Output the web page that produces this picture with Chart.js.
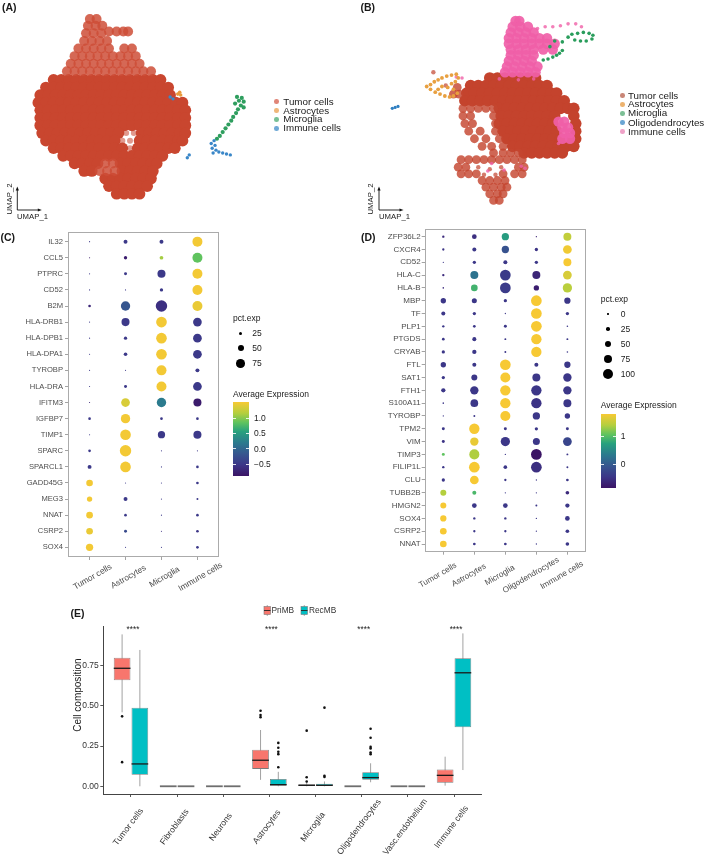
<!DOCTYPE html>
<html><head><meta charset="utf-8">
<script src="https://cdn.jsdelivr.net/npm/chart.js@4.4.1/dist/chart.umd.min.js"></script>
<style>
html,body{margin:0;padding:0;background:#fff;}
#root{position:relative;width:709px;height:862px;overflow:hidden;font-family:"Liberation Sans",Arial,Helvetica,sans-serif;background:#fff;}
canvas{position:absolute;}
.t{position:absolute;white-space:nowrap;line-height:1;color:#1a1a1a;}
</style></head><body><div id="root"></div>
<script>
// ================= DATA =================
// Panel A UMAP embedding (rows: [UMAP_2, [UMAP_1 ...]], screen-oriented embedding units)
const umapA_tumor_core = [
 [78,[50,58,66,74,82,90,98,106,114,122,130,138,146,154,162]],
 [86,[42,50,58,66,74,82,90,98,106,114,122,130,138,146,154,162,170]],
 [94,[36,44,52,60,68,76,84,92,100,108,116,124,132,140,148,156,164,172]],
 [102,[34,42,50,58,66,74,82,90,98,106,114,122,130,138,146,154,162,170,178,185]],
 [110,[36,44,52,60,68,76,84,92,100,108,116,124,132,140,148,156,164,172,180,188]],
 [118,[36,44,52,60,68,76,84,92,100,108,116,124,132,140,148,156,164,172,180,188]],
 [126,[36,44,52,60,68,76,84,92,100,108,116,124,132,140,148,156,164,172,180,188]],
 [134,[38,46,54,62,70,78,86,94,102,110,118,142,150,158,166,174,182,188]],
 [142,[42,50,58,66,74,82,90,98,106,114,140,148,156,164,172,180,185]],
 [150,[50,58,66,74,82,90,98,106,114,122,138,146,154,162,170,177]],
 [158,[60,68,76,84,92,100,108,116,124,132,140,148,156,164]],
 [166,[72,80,88,96,120,128,136,144,152,158]],
 [174,[82,90,122,130,138,146,154]],
 [182,[104,112,120,128,136,144,152]],
 [190,[108,116,124,132,140,148]],
 [198,[116,124,132,140]]
];
const umapA_tumor_mid = [
 [14,[88,95]],[21,[86,94,101]],[27,[108,116,123,128]],[29,[84,92,100]],
 [37,[82,90,98,106]],[45,[76,84,92,100,108,124,132]],
 [53,[72,80,88,96,104,112,120,128,136]],
 [61,[68,76,84,92,100,108,116,124,132,140]],
 [69,[64,72,80,88,96,104,112,120,128,136,144,152]],
 [166,[104,112]],[174,[98,106,114]]
];
const umapA_tumor_sparse = [[126,134],[134,134],[122,142],[130,142],[130,150]];
const umapA_astro = [[180,93],[182,91],[183,94]];
const umapA_micro = [[242,96],[247,97],[244,100],[249,101],[240,103],[246,105],[249,107],[243,109],[241,113],[238,117],[236,121],[233,125],[230,129],[227,133],[224,137],[221,140]];
const umapA_immune = [[218,142],[215,145],[219,147],[216,150],[220,152],[217,155],[223,154],[227,155],[231,156],[235,157],[172,96],[175,98],[192,157],[190,160]];

// Panel B UMAP embedding
const umapB_tumor_core = [
 [76,[490,498,506,514,522,530,538]],
 [84,[470,478,486,494,502,510,518,526,534,542,550]],
 [92,[466,474,482,490,498,506,514,522,530,538,546,554,560]],
 [100,[464,472,480,488,496,504,512,520,528,536,544,552,560,568]],
 [108,[500,508,516,524,532,540,548,556,564,572,578]],
 [116,[502,510,518,526,534,542,550,558,578]],
 [124,[500,508,516,524,532,540,548,556,580]],
 [132,[504,512,520,528,536,544,552,560,580]],
 [140,[508,516,524,532,540,548,556,564,572,580]],
 [148,[514,522,530,538,546,554,562,570,578]],
 [155,[526,534,542,550,558,566]]
];
const umapB_tumor_mid = [
 [86,[456]],[93,[452,458]],
 [108,[462,470,478,486,494]],[116,[462,470,494]],[124,[464,472,496]],
 [132,[468,480,496]],[140,[474,486,500]],[148,[482,492,504]],
 [155,[494,504,512,520]],
 [162,[460,468,476,484,492,500,508,516,524]],
 [170,[457,465,520,526]],[177,[460,468,476,504,516,524]],
 [184,[482,490,498,506]],[191,[486,494,502,508]],[198,[490,498,504]],[205,[494,500]]
];
const umapB_tumor_sparse = [[431,70],[444,84],[478,170],[490,172],[502,170],[484,178],[496,178]];
const umapB_immune_mid = [
 [16,[517,521]],[22,[514,522,530]],[28,[512,520,528,536]],
 [34,[510,518,526,534,542,550]],[40,[510,518,526,534,542,550,558]],
 [46,[512,520,528,536,546,556]],[52,[512,520,528,536]],[58,[510,518,526,534]],
 [64,[508,516,524,532,540]],[70,[506,514,522,530,538]],
 [122,[562,568]],[128,[566,572]],[134,[568,574]],[140,[566,574]]
];
const umapB_immune_sparse = [[540,24],[548,22],[556,22],[564,21],[572,19],[580,19],[586,22],[500,77],[520,78],[536,77],[455,75],[461,76],[523,169],[527,171],[492,166],[505,173],[488,174],[562,145]];
const umapB_micro = [[572,33],[576,30],[582,29],[588,28],[594,29],[598,31],[597,35],[591,37],[585,37],[579,36],[546,57],[551,56],[556,54],[560,52],[563,50],[566,47],[558,37],[566,38],[553,43]];
const umapB_astro = [[424,85],[428,83],[432,80],[436,78],[440,76],[445,74],[450,73],[455,72],[428,88],[433,91],[438,93],[443,95],[448,96],[452,95],[452,88],[450,82],[446,86],[440,85],[436,88],[454,80],[457,76],[456,92]];
const umapB_oligo = [[388,108],[391,107],[394,106]];

const legendA = ['Tumor cells','Astrocytes','Microglia','Immune cells'];
const legendB = ['Tumor cells','Astrocytes','Microglia','Oligodendrocytes','Immune cells'];

// Panel C dot plot
const cellsC = ['Tumor cells','Astrocytes','Microglia','Immune cells'];
const genesC = ['IL32','CCL5','PTPRC','CD52','B2M','HLA-DRB1','HLA-DPB1','HLA-DPA1','TYROBP','HLA-DRA','IFITM3','IGFBP7','TIMP1','SPARC','SPARCL1','GADD45G','MEG3','NNAT','CSRP2','SOX4'];
const pctC = [
 [5,31,31,87],[5,25,29,87],[5,22,69,87],[5,5,25,87],[19,81,100,87],
 [5,69,93,75],[5,25,93,75],[5,28,93,75],[5,5,87,31],[5,22,87,75],
 [5,75,81,69],[19,81,19,19],[5,93,62,69],[19,100,5,5],[31,93,5,19],
 [56,5,5,19],[44,31,5,13],[56,19,5,19],[56,22,5,19],[62,5,5,19]
];
const avgC = [
 [-0.5,-0.5,-0.5,1.5],[-0.85,-0.8,1.1,0.85],[-0.5,-0.5,-0.5,1.5],[-0.5,-0.5,-0.5,1.5],[-0.7,-0.17,-0.6,1.45],
 [-0.5,-0.5,1.5,-0.5],[-0.5,-0.5,1.5,-0.5],[-0.5,-0.5,1.5,-0.5],[-0.5,-0.5,1.5,-0.5],[-0.5,-0.5,1.5,-0.5],
 [-0.7,1.35,0.2,-0.82],[-0.5,1.5,-0.5,-0.5],[-0.5,1.5,-0.5,-0.5],[-0.5,1.5,-0.5,-0.5],[-0.5,1.5,-0.5,-0.5],
 [1.5,-0.5,-0.5,-0.5],[1.5,-0.5,-0.5,-0.5],[1.5,-0.5,-0.5,-0.5],[1.45,-0.3,-0.6,-0.55],[1.5,-0.5,-0.5,-0.5]
];
const colorRangeC = [-0.89, 1.52];
const colorTicksC = [1.0, 0.5, 0.0, -0.5];
const sizeTicksC = [25, 50, 75];

// Panel D dot plot
const cellsD = ['Tumor cells','Astrocytes','Microglia','Oligodendrocytes','Immune cells'];
const genesD = ['ZFP36L2','CXCR4','CD52','HLA-C','HLA-B','MBP','TF','PLP1','PTGDS','CRYAB','FTL','SAT1','FTH1','S100A11','TYROBP','TPM2','VIM','TIMP3','FILIP1L','CLU','TUBB2B','HMGN2','SOX4','CSRP2','NNAT'];
const pctD = [
 [11,36,64,0,71],[11,29,64,21,79],[0,21,29,21,71],[11,71,100,71,79],[3,57,100,43,85],
 [43,40,21,100,53],[29,21,0,100,21],[11,15,18,100,3],[15,29,7,96,7],[21,32,7,96,3],
 [43,29,100,29,53],[21,50,93,71,75],[32,75,96,96,75],[3,68,96,96,71],[0,7,93,64,43],
 [18,96,18,21,18],[18,75,85,61,79],[18,93,0,100,7],[11,100,25,100,7],[21,79,11,0,15],
 [50,29,0,0,25],[50,36,36,7,32],[53,11,11,0,36],[57,11,11,0,25],[57,15,15,0,25]
];
const avgD = [
 [-0.6,-0.55,0.68,-0.7,1.47],[-0.5,-0.45,-0.12,-0.5,1.75],[-0.45,-0.45,-0.45,-0.45,1.79],[-0.6,0.25,-0.4,-0.65,1.6],[-0.6,0.89,-0.4,-0.75,1.42],
 [-0.45,-0.45,-0.45,1.79,-0.45],[-0.45,-0.45,-0.45,1.79,-0.45],[-0.45,-0.45,-0.45,1.79,-0.45],[-0.45,-0.45,-0.45,1.79,-0.45],[-0.45,-0.45,-0.45,1.79,-0.45],
 [-0.45,-0.45,1.79,-0.45,-0.45],[-0.45,-0.45,1.79,-0.45,-0.45],[-0.45,-0.45,1.79,-0.45,-0.45],[-0.45,-0.45,1.79,-0.5,-0.45],[-0.45,-0.45,1.79,-0.45,-0.45],
 [-0.45,1.79,-0.45,-0.45,-0.45],[-0.5,1.7,-0.45,-0.45,-0.28],[1.05,1.37,-0.45,-0.86,-0.45],[-0.45,1.79,-0.45,-0.55,-0.45],[-0.45,1.79,-0.45,-0.45,-0.45],
 [1.39,0.94,-0.45,-0.45,-0.6],[1.79,-0.45,-0.45,-0.45,-0.45],[1.79,-0.45,-0.45,-0.45,-0.45],[1.79,-0.45,-0.45,-0.45,-0.45],[1.79,-0.45,-0.45,-0.45,-0.45]
];
const colorRangeD = [-0.86, 1.79];
const colorTicksD = [1, 0];
const sizeTicksD = [0, 25, 50, 75, 100];

// Panel E box plot
const cellTypesE = ['Tumor cells','Fibroblasts','Neurons','Astrocytes','Microglia','Oligodendrocytes','Vasc.endothelium','Immune cells'];
const groupsE = ['PriMB','RecMB'];
const priMB_lo  = [0.46, 0, 0, 0.04, 0,     0, 0, 0.004];
const priMB_q1  = [0.66, 0, 0, 0.108,0,     0, 0, 0.022];
const priMB_med = [0.734,0, 0, 0.162,0.006, 0, 0, 0.068];
const priMB_q3  = [0.80, 0, 0, 0.228,0.013, 0, 0, 0.105];
const priMB_hi  = [0.945,0, 0, 0.35, 0.025, 0, 0, 0.184];
const priMB_out = [[0.435,0.15],[],[],[0.47,0.443,0.43],[0.346,0.056,0.03],[],[],[]];
const recMB_lo  = [0,    0, 0, 0,    0,     0.025, 0, 0.101];
const recMB_q1  = [0.072,0, 0, 0,    0,     0.04,  0, 0.367];
const recMB_med = [0.139,0, 0, 0.01, 0.006, 0.054, 0, 0.706];
const recMB_q3  = [0.489,0, 0, 0.045,0.016, 0.088, 0, 0.796];
const recMB_hi  = [0.848,0, 0, 0.09, 0.03,  0.143, 0, 0.951];
const recMB_out = [[],[],[],[0.27,0.24,0.215,0.2,0.118],[0.489,0.065,0.058],[0.358,0.302,0.245,0.235,0.21,0.2],[],[]];
const sigLabelsE = ['****','','','****','','****','','****'];
const sigLevelE = 0.985;
const yTicksE = [0, 0.25, 0.5, 0.75];

// ================= HELPERS =================
const FONT = '"Liberation Sans", Arial, Helvetica, sans-serif';
Chart.defaults.font.family = FONT;
Chart.defaults.animation = false;
const root = document.getElementById('root');
const svgNS = 'http://www.w3.org/2000/svg';

function mkCanvas(left, top, w, h){
  const c = document.createElement('canvas');
  c.width = w; c.height = h;
  c.style.left = left+'px'; c.style.top = top+'px';
  c.style.width = w+'px'; c.style.height = h+'px';
  root.appendChild(c); return c;
}
function txt(s, x, cy, size, opts){
  opts = opts || {};
  const d = document.createElement('div');
  d.className = 't'; d.textContent = s;
  d.style.fontSize = size+'px';
  d.style.left = x+'px'; d.style.top = (cy - size*0.5)+'px';
  if (opts.bold) d.style.fontWeight = 'bold';
  if (opts.color) d.style.color = opts.color;
  if (opts.rotate){ d.style.left = x+'px'; d.style.top = cy+'px'; d.style.transform = 'translate(-50%,-50%) rotate(-90deg)'; }
  root.appendChild(d); return d;
}
function dot(cx, cy, r, color){
  const d = document.createElement('div');
  d.style.position='absolute'; d.style.left=(cx-r)+'px'; d.style.top=(cy-r)+'px';
  d.style.width=(2*r)+'px'; d.style.height=(2*r)+'px'; d.style.borderRadius='50%'; d.style.background=color;
  root.appendChild(d); return d;
}
function expandRows(rows){ const pts=[]; rows.forEach(([y,xs])=>xs.forEach(x=>pts.push({x:x,y:y}))); return pts; }
function pairs(arr){ return arr.map(([x,y])=>({x:x,y:y})); }

const cmapStops = [[0,'#3B1465'],[0.15,'#3C3688'],[0.3,'#36568F'],[0.45,'#2B7A8E'],[0.6,'#27A17E'],[0.72,'#5EC35F'],[0.85,'#B5CF3E'],[1,'#F7C934']];
function hex2rgb(h){ return [parseInt(h.substr(1,2),16),parseInt(h.substr(3,2),16),parseInt(h.substr(5,2),16)]; }
function cmap(t){
  t = Math.max(0, Math.min(1, t));
  for (let k=1;k<cmapStops.length;k++){
    if (t <= cmapStops[k][0]){
      const t0=cmapStops[k-1][0], t1=cmapStops[k][0];
      const a=hex2rgb(cmapStops[k-1][1]), b=hex2rgb(cmapStops[k][1]);
      const f=(t-t0)/(t1-t0);
      return 'rgb('+[0,1,2].map(i=>Math.round(a[i]+(b[i]-a[i])*f)).join(',')+')';
    }
  }
  return cmapStops[cmapStops.length-1][1];
}
const gradCSS = 'linear-gradient(to top,'+cmapStops.map(s=>s[1]+' '+(s[0]*100)+'%').join(',')+')';

// ================= SVG overlay =================
const svg = document.createElementNS(svgNS,'svg');
svg.setAttribute('width',709); svg.setAttribute('height',862);
svg.style.position='absolute'; svg.style.left='0'; svg.style.top='0';
function sv(tag, attrs){ const e=document.createElementNS(svgNS,tag); for (const k in attrs) e.setAttribute(k, attrs[k]); svg.appendChild(e); return e; }

// ================= UMAP charts =================
const umapOpts = (x0,x1) => ({
  responsive:false, animation:false, events:[],
  layout:{padding:0},
  plugins:{legend:{display:false}, tooltip:{enabled:false}},
  scales:{ x:{type:'linear', display:false, min:x0, max:x1}, y:{type:'linear', display:false, min:0, max:230, reverse:true} },
  elements:{point:{borderWidth:0, hoverRadius:0}}
});
function ds(label, data, r, color, order){
  return {label:label, data:data, pointRadius:r, pointBorderWidth:0, pointHoverRadius:0, backgroundColor:color, pointBackgroundColor:color, order:order};
}
new Chart(mkCanvas(0,0,260,230), {
  type:'scatter',
  data:{datasets:[
    ds('Immune cells', pairs(umapA_immune), 1.7, '#3A87C8', 0),
    ds('Microglia', pairs(umapA_micro), 2.1, '#2E9E5E', 1),
    ds('Astrocytes', pairs(umapA_astro), 1.8, '#E89A3C', 2),
    ds('Tumor cells', pairs(umapA_tumor_sparse), 3.0, 'rgba(201,70,47,0.55)', 3),
    ds('Tumor cells', expandRows(umapA_tumor_mid), 5.0, 'rgba(206,78,55,0.85)', 4),
    ds('Tumor cells', expandRows(umapA_tumor_core), 5.8, '#C9462F', 5)
  ]},
  options: umapOpts(0,260)
});
new Chart(mkCanvas(354,0,260,230), {
  type:'scatter',
  data:{datasets:[
    ds('Oligodendrocytes', pairs(umapB_oligo), 1.6, '#2F7FC1', 0),
    ds('Microglia', pairs(umapB_micro), 1.8, '#2A9D5C', 1),
    ds('Astrocytes', pairs(umapB_astro), 1.9, '#E8A040', 2),
    ds('Immune cells', pairs(umapB_immune_sparse), 1.8, 'rgba(240,96,168,0.8)', 3),
    ds('Immune cells', expandRows(umapB_immune_mid), 5.2, 'rgba(240,96,168,0.92)', 4),
    ds('Tumor cells', pairs(umapB_tumor_sparse), 2.2, 'rgba(194,67,45,0.7)', 5),
    ds('Tumor cells', expandRows(umapB_tumor_mid), 4.4, 'rgba(196,70,48,0.82)', 6),
    ds('Tumor cells', expandRows(umapB_tumor_core), 5.8, '#C4432D', 7)
  ]},
  options: umapOpts(354,614)
});

// ================= Dot plots =================
function framePlugin(color){
  return {id:'frame', afterDatasetsDraw(chart){
    const a=chart.chartArea, ctx=chart.ctx; ctx.save(); ctx.strokeStyle=color; ctx.lineWidth=1;
    ctx.strokeRect(Math.round(a.left)+0.5, Math.round(a.top)+0.5, Math.round(a.right-a.left)-1, Math.round(a.bottom-a.top)-1); ctx.restore(); }};
}
function rotLabels(labels, values, angle, dx, dy, size, color){
  return {id:'rotLabels', afterDraw(chart){
    const ctx=chart.ctx, xs=chart.scales.x, a=chart.chartArea;
    ctx.save(); ctx.font=size+'px '+FONT; ctx.fillStyle=color; ctx.textAlign='center'; ctx.textBaseline='middle';
    labels.forEach((lab,i)=>{ ctx.save(); ctx.translate(xs.getPixelForValue(values[i])+dx, a.bottom+dy); ctx.rotate(-angle*Math.PI/180); ctx.fillText(lab,0,0); ctx.restore(); });
    ctx.restore(); }};
}
const rC = p => (0.6 + 0.108*p)/2;
const rD = p => (1.3 + 0.094*p)/2;

function dotChart(canvas, genes, cells, pct, avg, range, rfun, yWidth, xHeight, pad, yFont, labAngle, labDx, labDy, labFont, tickPad){
  const pts = [];
  genes.forEach((g,i)=>cells.forEach((c,j)=>{
    pts.push({x:j+1, y:i+1, r:rfun(pct[i][j]), col:cmap((avg[i][j]-range[0])/(range[1]-range[0]))});
  }));
  const gridCfg = {display:true, drawOnChartArea:false, drawTicks:true, tickLength:3, tickColor:'#8c8c8c', lineWidth:0.8};
  return new Chart(canvas, {
    type:'bubble',
    data:{datasets:[{data:pts, backgroundColor:c=>c.raw?c.raw.col:'#000', borderWidth:0, hoverRadius:0}]},
    options:{
      responsive:false, animation:false, events:[],
      layout:{padding:pad},
      plugins:{legend:{display:false}, tooltip:{enabled:false}},
      scales:{
        x:{type:'linear', min:0.4, max:cells.length+0.6,
           afterBuildTicks:s=>{s.ticks=cells.map((_,i)=>({value:i+1}));},
           ticks:{display:false}, grid:gridCfg, border:{display:false},
           afterFit:s=>{s.height=xHeight;}},
        y:{type:'linear', min:0.4, max:genes.length+0.6, reverse:true,
           afterBuildTicks:s=>{s.ticks=genes.map((_,i)=>({value:i+1}));},
           ticks:{autoSkip:false, callback:(v,i)=>genes[i], font:{size:yFont}, color:'#4d4d4d', padding:tickPad},
           grid:gridCfg, border:{display:false},
           afterFit:s=>{s.width=yWidth;}}
      }
    },
    plugins:[framePlugin('#ababab'), rotLabels(cells, cells.map((_,i)=>i+1), labAngle, labDx, labDy, labFont, '#4d4d4d')]
  });
}
dotChart(mkCanvas(0,222,230,378), genesC, cellsC, pctC, avgC, colorRangeC, rC, 68, 43, {top:10,right:11,left:0,bottom:0}, 7.6, 30, 3, 20, 8.4, 2);
dotChart(mkCanvas(354,219,241,401), genesD, cellsD, pctD, avgD, colorRangeD, rD, 70.7, 68.3, {top:10,right:9,left:0,bottom:0}, 8, 30, -5.5, 23.6, 8.2, 1);

// ================= Box plot E =================
const statsE = [
  {q1:priMB_q1, q3:priMB_q3, lo:priMB_lo, hi:priMB_hi, med:priMB_med, out:priMB_out},
  {q1:recMB_q1, q3:recMB_q3, lo:recMB_lo, hi:recMB_hi, med:recMB_med, out:recMB_out}
];
const boxPlugin = {
  id:'boxStats',
  beforeDatasetsDraw(chart){
    const ctx=chart.ctx, ys=chart.scales.y;
    ctx.save(); ctx.strokeStyle='#8a8a8a'; ctx.lineWidth=0.8;
    statsE.forEach((st,di)=>{
      chart.getDatasetMeta(di).data.forEach((bar,j)=>{
        if (st.hi[j] === st.lo[j]) return;
        ctx.beginPath(); ctx.moveTo(bar.x, ys.getPixelForValue(st.lo[j])); ctx.lineTo(bar.x, ys.getPixelForValue(st.hi[j])); ctx.stroke();
      });
    });
    ctx.restore();
  },
  afterDatasetsDraw(chart){
    const ctx=chart.ctx, ys=chart.scales.y, xs=chart.scales.x;
    ctx.save();
    statsE.forEach((st,di)=>{
      chart.getDatasetMeta(di).data.forEach((bar,j)=>{
        const w=bar.width;
        const zero = st.q3[j]===st.q1[j];
        ctx.strokeStyle = zero ? '#6e6e6e' : '#1a1a1a'; ctx.lineWidth = zero ? 1.8 : 1.3;
        const my = ys.getPixelForValue(st.med[j]);
        ctx.beginPath(); ctx.moveTo(bar.x-w/2, my); ctx.lineTo(bar.x+w/2, my); ctx.stroke();
        ctx.fillStyle='#111';
        st.out[j].forEach(v=>{ ctx.beginPath(); ctx.arc(bar.x, ys.getPixelForValue(v), 1.3, 0, Math.PI*2); ctx.fill(); });
      });
    });
    ctx.font='8.2px '+FONT; ctx.fillStyle='#222'; ctx.textAlign='center'; ctx.textBaseline='middle';
    sigLabelsE.forEach((s,i)=>{ if(s) ctx.fillText(s, xs.getPixelForValue(i)+2, ys.getPixelForValue(sigLevelE)+2); });
    ctx.restore();
  }
};
new Chart(mkCanvas(50,612,450,250), {
  type:'bar',
  data:{datasets:[
    {label:groupsE[0], data:cellTypesE.map((c,i)=>({x:i, y:[priMB_q1[i], priMB_q3[i]]})), backgroundColor:'#F8766D', borderColor:'#7a7a7a', borderWidth:0.8, borderSkipped:false, categoryPercentage:0.77, barPercentage:0.94},
    {label:groupsE[1], data:cellTypesE.map((c,i)=>({x:i, y:[recMB_q1[i], recMB_q3[i]]})), backgroundColor:'#00BFC4', borderColor:'#7a7a7a', borderWidth:0.8, borderSkipped:false, categoryPercentage:0.77, barPercentage:0.94}
  ]},
  options:{
    responsive:false, animation:false, events:[],
    layout:{padding:{top:14, right:18.3, left:0, bottom:0}},
    plugins:{legend:{display:false}, tooltip:{enabled:false}},
    scales:{
      x:{type:'linear', min:-0.6, max:cellTypesE.length-0.4, offset:false,
         afterBuildTicks:s=>{s.ticks=cellTypesE.map((_,i)=>({value:i}));},
         ticks:{display:false},
         grid:{display:true, offset:false, drawOnChartArea:false, drawTicks:true, tickLength:3, tickColor:'#444', lineWidth:0.9},
         border:{display:true, color:'#444', width:1},
         afterFit:s=>{s.height=68;}},
      y:{type:'linear', min:-0.048, max:0.997,
         afterBuildTicks:s=>{s.ticks=yTicksE.map(v=>({value:v}));},
         ticks:{callback:v=>v.toFixed(2), font:{size:8.5}, color:'#333', padding:1.5},
         grid:{display:true, drawOnChartArea:false, drawTicks:true, tickLength:3, tickColor:'#444', lineWidth:0.9},
         border:{display:true, color:'#444', width:1},
         afterFit:s=>{s.width=53.3;}}
    }
  },
  plugins:[boxPlugin, rotLabels(cellTypesE, cellTypesE.map((_,i)=>i), 53, -2.5, 33, 8.6, '#333')]
});

root.appendChild(svg);

// ================= Annotations / legends =================
txt('(A)', 2, 7.5, 10.5, {bold:true});
txt('(B)', 360.5, 7.5, 10.5, {bold:true});
txt('(C)', 0.5, 237, 10.5, {bold:true});
txt('(D)', 361, 237, 10.5, {bold:true});
txt('(E)', 70.5, 613, 10.5, {bold:true});

function umapArrows(x0, y0){
  sv('line',{x1:x0,y1:y0,x2:x0,y2:y0-20,stroke:'#111','stroke-width':0.9});
  sv('polygon',{points:(x0-1.6)+','+(y0-19.5)+' '+(x0+1.6)+','+(y0-19.5)+' '+x0+','+(y0-23.5),fill:'#111'});
  sv('line',{x1:x0,y1:y0,x2:x0+21,y2:y0,stroke:'#111','stroke-width':0.9});
  sv('polygon',{points:(x0+20.5)+','+(y0-1.6)+' '+(x0+20.5)+','+(y0+1.6)+' '+(x0+24.5)+','+y0,fill:'#111'});
}
umapArrows(17.3, 210); umapArrows(379, 210);
txt('UMAP_1', 17, 216.7, 7.75); txt('UMAP_2', 10, 199, 7.75, {rotate:true});
txt('UMAP_1', 379, 217, 7.75); txt('UMAP_2', 370.7, 199, 7.75, {rotate:true});

const legColA = ['#E08577','#EFB77A','#77C095','#6FA9D6'];
const legYA = [101.7,110.7,119.3,128.3];
legendA.forEach((s,i)=>{ dot(276.7, legYA[i], 2.3, legColA[i]); txt(s, 283.3, legYA[i], 9.8); });
const legColB = ['#C98677','#EDB36F','#7CBF95','#6AA6D4','#F0A2C8'];
const legYB = [95.7,104.3,113.3,122.7,131.7];
legendB.forEach((s,i)=>{ dot(622.3, legYB[i], 2.3, legColB[i]); txt(s, 628, legYB[i], 9.8); });

function dotLegend(x, titleY, dotX, rowsY, labX, ticks, rfun, cbTitleY, cbTop, cbW, cbH, range, cticks, cticksLabel){
  txt('pct.exp', x, titleY, 8.5);
  ticks.forEach((p,i)=>{ dot(dotX, rowsY[i], Math.max(rfun(p),0.55), '#000'); txt(String(p), labX, rowsY[i], 8.5); });
  txt('Average Expression', x, cbTitleY, 8.5);
  const cb = document.createElement('div');
  cb.style.position='absolute'; cb.style.left=x+'px'; cb.style.top=cbTop+'px'; cb.style.width=cbW+'px'; cb.style.height=cbH+'px'; cb.style.background=gradCSS;
  root.appendChild(cb);
  cticks.forEach((v,i)=>{
    const y = cbTop + (range[1]-v)/(range[1]-range[0])*cbH;
    [x, x+cbW-3].forEach(xx=>{ const tk=document.createElement('div'); tk.style.position='absolute'; tk.style.left=xx+'px'; tk.style.top=(y-0.4)+'px'; tk.style.width='3px'; tk.style.height='0.8px'; tk.style.background='rgba(255,255,255,0.85)'; root.appendChild(tk); });
    txt(cticksLabel[i], x+cbW+5, y, 8.5);
  });
}
dotLegend(233, 318.3, 240.7, [333.7,348.3,363.3], 252.3, sizeTicksC, rC, 394, 402.3, 16, 73.7, colorRangeC, colorTicksC, ['1.0','0.5','0.0','\u22120.5']);
dotLegend(600.7, 299.3, 608, [314,329,344,359,374], 620.7, sizeTicksD, rD, 405.7, 414, 15, 74, colorRangeD, colorTicksD, ['1','0']);

function boxKey(x, fill){
  sv('line',{x1:x+3.25,y1:605,x2:x+3.25,y2:616,stroke:'#8a8a8a','stroke-width':0.7});
  sv('rect',{x:x,y:606.5,width:6.5,height:8,fill:fill,stroke:'#7a7a7a','stroke-width':0.6});
  sv('line',{x1:x,y1:610.5,x2:x+6.5,y2:610.5,stroke:'#222','stroke-width':0.9});
}
boxKey(264, '#F8766D'); boxKey(301, '#00BFC4');
txt(groupsE[0], 271.5, 610.3, 8.3, {color:'#333'});
txt(groupsE[1], 309, 610.3, 8.3, {color:'#333'});
txt('Cell composition', 78, 695, 10, {rotate:true, color:'#222'});
</script>
</body></html>
